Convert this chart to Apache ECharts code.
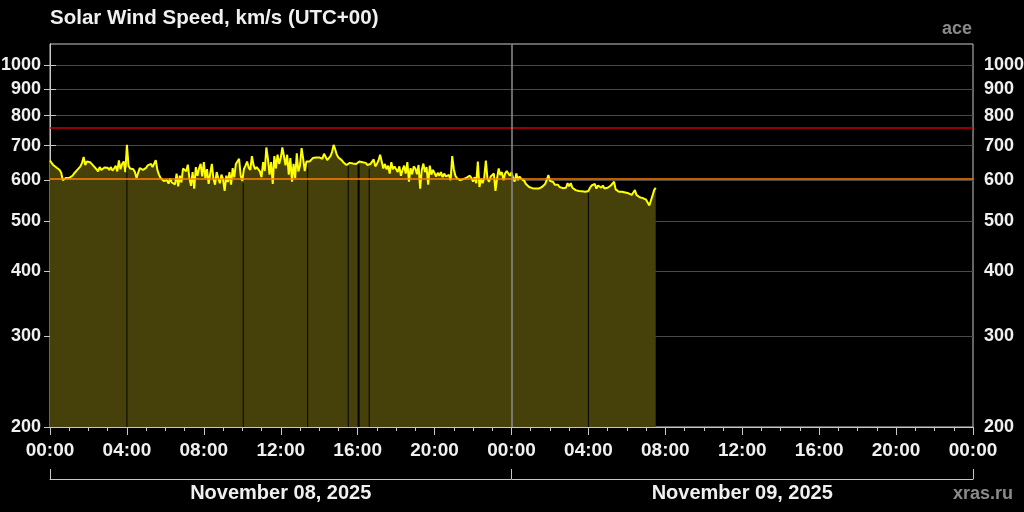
<!DOCTYPE html>
<html><head><meta charset="utf-8">
<script src="https://cdn.jsdelivr.net/npm/echarts@6/dist/echarts.min.js"></script>
<style>html,body{margin:0;padding:0;background:#000}#c{width:1024px;height:512px}</style>
</head><body><div id="c"></div>
<script>
const chartTitle = 'Solar Wind Speed, km/s (UTC+00)';
const sourceLabel = 'ace';
const creditLabel = 'xras.ru';
const dayLabels = ['November 08, 2025', 'November 09, 2025'];
const stepMinutes = 5; // samples every 5 minutes from 2025-11-08 00:00 UTC
const speed = [
 655,648,642,638,635,632,628,620,600,603,606,604,
 606,608,612,618,623,628,632,638,648,665,642,652,
 655,650,645,640,636,630,624,636,628,633,635,630,
 634,628,636,626,632,640,624,655,630,645,652,622,
 702,640,632,637,630,622,606,620,633,638,628,632,
 634,641,636,645,636,641,656,628,615,606,604,598,
 596,600,591,604,594,598,589,618,584,612,594,632,
 636,624,643,606,585,622,578,636,612,632,645,610,
 650,605,630,590,618,645,604,588,622,606,592,615,
 602,572,612,595,622,588,633,608,645,640,660,612,
 598,630,640,652,634,628,668,642,630,636,641,624,
 608,650,625,694,660,615,650,590,668,632,672,645,
 662,694,668,641,672,615,662,596,645,606,676,624,
 640,692,660,625,652,656,652,655,662,658,664,668,
 664,668,660,675,666,656,652,668,680,702,688,672,
 664,660,656,650,645,642,645,648,652,646,650,645,
 650,652,648,650,646,648,642,638,645,650,658,638,
 645,655,672,678,632,645,630,640,618,650,630,638,
 633,622,638,612,628,640,618,650,596,633,616,638,
 632,616,642,578,628,646,622,636,588,640,615,628,
 624,610,620,612,622,608,618,610,605,614,600,668,
 630,612,605,608,600,604,603,598,607,604,612,606,
 596,608,592,652,582,604,592,608,655,604,596,610,
 612,618,572,605,632,614,622,600,618,625,630,612,
 622,606,596,618,600,610,604,600,598,590,586,582,
 580,579,578,578,579,578,580,582,585,590,600,614,
 598,596,595,588,584,588,582,580,579,584,580,592,
 584,592,580,576,574,572,572,575,571,575,570,574,
 572,580,586,582,590,578,586,590,580,586,578,582,
 580,584,586,590,596,576,571,570,566,570,567,568,
 566,566,565,562,568,574,562,558,556,558,554,552,
 550,546,536,548,560,574,580
];
// short data gaps (hours after 2025-11-08 00:00 UTC) and their widths in pixels
const gapHours = [4.0, 10.05, 13.4, 15.51, 16.05, 16.6, 28.0];
const gapWidths = [1, 1, 1, 1, 2, 1, 1];
const yTicks = [200, 300, 400, 500, 600, 700, 800, 900, 1000];
const yMin = 200, yMax = 1100;
const alertLevels = [600, 750];
const alertColors = ['#ff8000', '#c80000'];
const dayBoundaryHours = [24];
const xMaxHours = 48, xStepHours = 4;
const dayTickHours = [0, 24, 48];
const dayLabelHours = [12, 36];

const lg = Math.log10;
const pts = speed.map((v, i) => [i * stepMinutes / 60, lg(v)]);
const gapPts = gapHours.map((g, k) => {
  const i = Math.min(speed.length - 1, Math.floor(g * 60 / stepMinutes));
  return [g, lg(Math.min(speed[i], speed[i + 1] || speed[i])), gapWidths[k]];
});

const FONT = 'Liberation Sans, Arial, sans-serif';
const pad = n => (n < 10 ? '0' : '') + n;
const labelStyle = { color: '#f0f0f0', fontFamily: FONT, fontWeight: 'bold' };

const yAxisBase = (pos) => ({
  type: 'value', position: pos, min: lg(yMin), max: lg(yMax),
  axisLine: { show: true, lineStyle: { color: '#c8c8c8', width: 1 } },
  axisTick: { show: true, length: 6, customValues: yTicks.map(lg), lineStyle: { color: '#c8c8c8' } },
  axisLabel: Object.assign({ fontSize: 18, margin: pos === 'left' ? 9 : 11, customValues: yTicks.map(lg),
    formatter: v => String(Math.round(Math.pow(10, v))) }, labelStyle),
  splitLine: { show: pos === 'left', lineStyle: { color: '#4a4a4a', width: 1 } }
});

const option = {
  backgroundColor: '#000',
  animation: false,
  title: [
    { text: chartTitle, left: 45, top: 3, textStyle: { color: '#f0f0f0', fontSize: 20.5, fontWeight: 'bold', fontFamily: FONT } },
    { text: sourceLabel, right: 47, top: 15, textStyle: { color: '#8a8a8a', fontSize: 18, fontWeight: 'bold', fontFamily: FONT } },
    { text: creditLabel, right: 6, top: 480, textStyle: { color: '#8a8a8a', fontSize: 18, fontWeight: 'bold', fontFamily: FONT } }
  ],
  grid: { left: 50, right: 51, top: 44, bottom: 85, show: true, borderColor: '#c8c8c8', borderWidth: 1,
    containLabel: false, outerBoundsMode: 'none' },
  xAxis: [
    { type: 'value', min: 0, max: xMaxHours, interval: xStepHours, position: 'bottom',
      axisLine: { show: true, lineStyle: { color: '#c8c8c8' } },
      axisTick: { show: true, length: 8, lineStyle: { color: '#c8c8c8' } },
      minorTick: { show: true, splitNumber: 4, length: 4, lineStyle: { color: '#c8c8c8' } },
      axisLabel: Object.assign({ fontSize: 19, margin: 14, formatter: v => pad(v % 24) + ':00' }, labelStyle),
      splitLine: { show: false } },
    { type: 'value', min: 0, max: xMaxHours, position: 'bottom', offset: 52,
      axisLine: { show: true, lineStyle: { color: '#c8c8c8' } },
      axisTick: { show: true, inside: true, length: 10, customValues: dayTickHours, lineStyle: { color: '#c8c8c8' } },
      axisLabel: Object.assign({ fontSize: 20, margin: 4, customValues: dayLabelHours,
        formatter: v => dayLabels[Math.floor(v / 24)] }, labelStyle),
      splitLine: { show: false } }
  ],
  yAxis: [yAxisBase('left'), yAxisBase('right')],
  series: [{
    type: 'line', data: pts, xAxisIndex: 0, yAxisIndex: 0,
    showSymbol: false, z: 3,
    lineStyle: { color: '#ffff00', width: 2 },
    itemStyle: { color: '#ffff00' },
    areaStyle: { color: '#46410a', opacity: 1, origin: 'start' },
    markLine: {
      silent: true, symbol: 'none', label: { show: false }, z: 5,
      data: alertLevels.map((v, i) => ({ yAxis: lg(v), lineStyle: { color: alertColors[i], width: 1.5, type: 'solid' } }))
        .concat(dayBoundaryHours.map(h => ({ xAxis: h, lineStyle: { color: '#8c8c8c', width: 1.5, type: 'solid' } })))
    }
  }, {
    type: 'custom', xAxisIndex: 0, yAxisIndex: 0, z: 4, silent: true,
    data: gapPts,
    renderItem: (params, api) => {
      const top = api.coord([api.value(0), api.value(1)]);
      const bot = api.coord([api.value(0), lg(yMin)]);
      const w = api.value(2);
      return { type: 'rect', shape: { x: top[0] - w / 2, y: top[1] + 2, width: w, height: bot[1] - top[1] - 2 },
        style: { fill: '#050400' } };
    }
  }]
};
const chart = echarts.init(document.getElementById('c'), null, { renderer: 'canvas' });
chart.setOption(option);
</script></body></html>
